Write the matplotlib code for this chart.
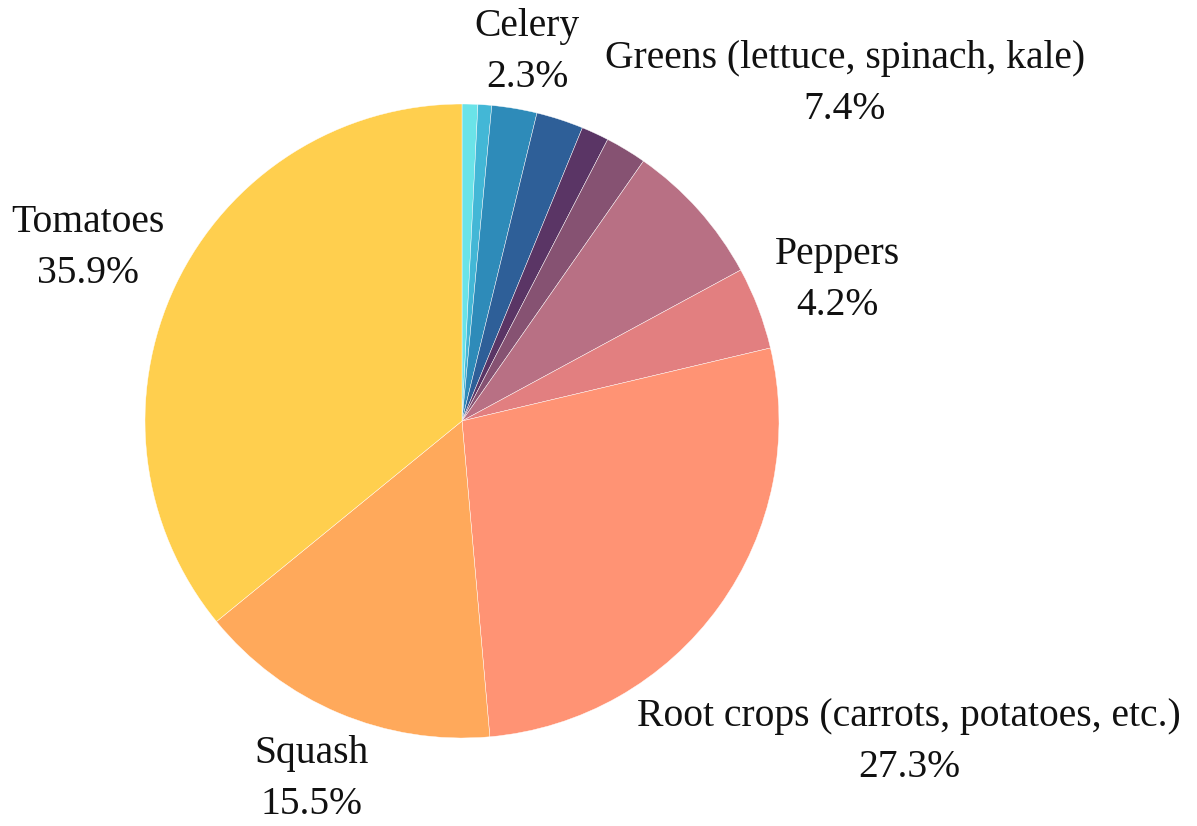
import matplotlib
matplotlib.use("Agg")
import matplotlib.pyplot as plt
import numpy as np

labels = ["Herbs", "Beans", "Celery", "Onions", "Cucumbers", "Other",
          "Greens (lettuce, spinach, kale)", "Peppers",
          "Root crops (carrots, potatoes, etc.)", "Squash", "Tomatoes"]
values = [0.8, 0.7, 2.3, 2.4, 1.4, 2.1, 7.4, 4.2, 27.3, 15.5, 35.9]
colors = ["#6ae3e8", "#43b7d6", "#2e8bb9", "#2e5f98", "#5a3565", "#865272",
          "#b87084", "#e27f80", "#ff9374", "#ffa95b", "#ffcf4e"]
shown = ["Celery", "Greens (lettuce, spinach, kale)", "Peppers",
         "Root crops (carrots, potatoes, etc.)", "Squash", "Tomatoes"]

W, H = 1197, 826
cx, cy, R = 462, 421, 317

fig = plt.figure(figsize=(W / 100, H / 100), dpi=100)
ax = fig.add_axes([0, 0, 1, 1])

wedges, _ = ax.pie(values, colors=colors, startangle=90, counterclock=False,
                   radius=1.0, center=(0, 0), frame=True,
                   wedgeprops=dict(edgecolor="#ffffff", linewidth=0.3))
ax.set_xlim((0 - cx) / R, (W - cx) / R)
ax.set_ylim((cy - H) / R, (cy - 0) / R)
ax.set_aspect("auto")
ax.axis("off")

# label anchor points in pixel coords (center x, first-line baseline y)
label_pos = {
    "Celery": (527, 36),
    "Greens (lettuce, spinach, kale)": (845, 68),
    "Peppers": (837, 264),
    "Root crops (carrots, potatoes, etc.)": (909, 726),
    "Squash": (311, 763),
    "Tomatoes": (88, 232),
}
line_gap = 51
total = sum(values)
font = dict(family=["Liberation Serif", "DejaVu Serif"], fontsize=28.5, color="#111111")
for lab, v in zip(labels, values):
    if lab not in shown:
        continue
    px, py = label_pos[lab]
    x = (px - cx) / R
    y1 = (cy - py) / R
    y2 = (cy - py - line_gap) / R
    ax.text(x, y1, lab, ha="center", va="baseline", **font)
    ax.text(x, y2, f"{100 * v / total:.1f}%", ha="center", va="baseline", **font)

fig.savefig("out.png", dpi=100, facecolor="white")
